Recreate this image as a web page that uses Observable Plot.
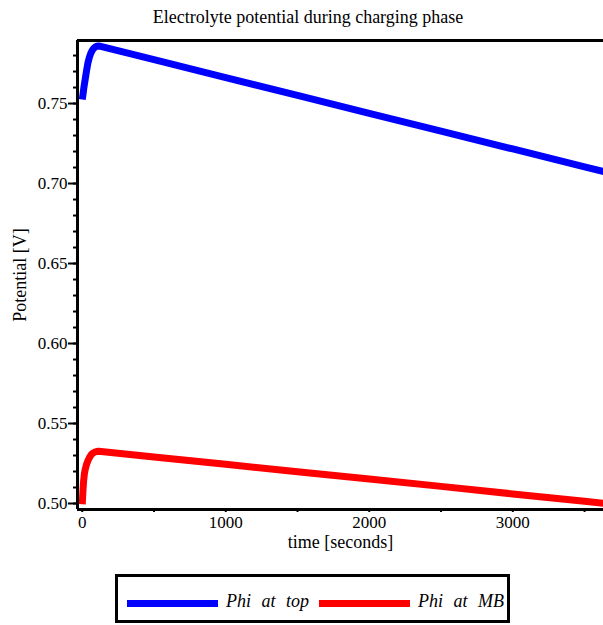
<!DOCTYPE html>
<html>
<head>
<meta charset="utf-8">
<script src="https://cdn.jsdelivr.net/npm/d3@7"></script>
<script src="https://cdn.jsdelivr.net/npm/@observablehq/plot@0.6"></script>
<style>
  html, body { margin: 0; padding: 0; background: #fff; }
  #wrap { position: relative; width: 603px; height: 625px; overflow: hidden; font-family: "Liberation Serif", "Times New Roman", serif; color: #000; }
  #title { position: absolute; left: 13px; top: 0; width: 590px; height: 34px; line-height: 34px; text-align: center; font-size: 18px; }
  #chart { position: absolute; left: 0; top: 34px; }
  #legend { position: absolute; left: 115px; top: 574px; width: 395px; height: 49px; box-sizing: border-box; border: 3px solid #000; }
  .sw { position: absolute; height: 7px; top: 22.5px; width: 91px; }
  .lt { position: absolute; top: 15px; font-style: italic; font-size: 18px; line-height: 18px; white-space: nowrap; word-spacing: 6px; }
</style>
</head>
<body>
<div id="wrap">
  <div id="title">Electrolyte potential during charging phase</div>
  <div id="chart"></div>
  <div id="legend"></div>
</div>
<script>
// ---- data ----
const timeSeconds = [0, 5, 10, 15, 20, 30, 40, 50, 60, 70, 80, 90, 100, 115, 500, 1000, 1500, 2000, 2500, 3000, 3500, 3640];
const phiTop = [0.7525, 0.7555, 0.7590, 0.7620, 0.7648, 0.7705, 0.7755, 0.7790, 0.7815, 0.7833, 0.7845, 0.7853, 0.7858, 0.7860, 0.7774, 0.7662, 0.7551, 0.7439, 0.7327, 0.7216, 0.7104, 0.7073];
const phiMB  = [0.4995, 0.5080, 0.5145, 0.5185, 0.5210, 0.5245, 0.5268, 0.5287, 0.5302, 0.5312, 0.5318, 0.5322, 0.5325, 0.5327, 0.5291, 0.5245, 0.5199, 0.5153, 0.5107, 0.5060, 0.5014, 0.5001];
const seriesNames = ["Phi at top", "Phi at MB"];
const seriesColors = ["#0000ff", "#ff0000"];
const yMajorTicks = [0.50, 0.55, 0.60, 0.65, 0.70, 0.75];
const yMinorTicks = [0.50, 0.51, 0.52, 0.53, 0.54, 0.55, 0.56, 0.57, 0.58, 0.59, 0.60, 0.61, 0.62, 0.63, 0.64, 0.65, 0.66, 0.67, 0.68, 0.69, 0.70, 0.71, 0.72, 0.73, 0.74, 0.75, 0.76, 0.77, 0.78];
const xMajorTicks = [0, 1000, 2000, 3000];
const xMinorTicks = [0, 500, 1000, 1500, 2000, 2500, 3000, 3500];
const xDomain = [-33, 3632];
const yDomain = [0.49625, 0.7894];
const xLabel = "time [seconds]";
const yLabel = "Potential [V]";

const rows = [];
timeSeconds.forEach((t, i) => {
  rows.push({t, v: phiTop[i], s: seriesNames[0]});
});
timeSeconds.forEach((t, i) => {
  rows.push({t, v: phiMB[i], s: seriesNames[1]});
});

const chart = Plot.plot({
  width: 603,
  height: 536,
  marginTop: 6,
  marginBottom: 61,
  marginLeft: 77,
  marginRight: 0,
  style: {fontFamily: "'Liberation Serif', 'Times New Roman', serif", fontSize: "17px", color: "#000", background: "#fff"},
  x: {domain: xDomain},
  y: {domain: yDomain},
  color: {domain: seriesNames, range: seriesColors},
  marks: [
    Plot.line(rows, {x: "t", y: "v", z: "s", stroke: "s", strokeWidth: 7, strokeLinejoin: "round", strokeLinecap: "butt", clip: true}),
    Plot.axisY(yMinorTicks, {tickSize: 4, strokeWidth: 2, tickFormat: () => "", label: null}),
    Plot.axisY(yMajorTicks, {tickSize: 9, tickPadding: 1, strokeWidth: 2, tickFormat: d3.format(".2f"), label: null, fontSize: 17}),
    Plot.axisX(xMinorTicks, {tickSize: 3, strokeWidth: 2, tickFormat: () => "", label: null}),
    Plot.axisX(xMajorTicks, {tickSize: 0, tickPadding: 6, tickFormat: d3.format("d"), label: null, fontSize: 17}),
    Plot.ruleX([xDomain[0]], {strokeWidth: 3}),
    Plot.ruleY([yDomain[0], yDomain[1]], {strokeWidth: 3}),
    Plot.text([xLabel], {frameAnchor: "bottom", dy: 33, lineAnchor: "middle", textAnchor: "middle", fontSize: 18, text: d => d}),
    Plot.text([yLabel], {frameAnchor: "left", dx: -57, rotate: -90, lineAnchor: "middle", textAnchor: "middle", fontSize: 18, text: d => d})
  ]
});
document.getElementById("chart").appendChild(chart);

// legend
const legend = document.getElementById("legend");
const swatchLeft = [9, 201];
const labelLeft = [108, 300];
seriesNames.forEach((name, i) => {
  const sw = document.createElement("div");
  sw.className = "sw";
  sw.style.left = swatchLeft[i] + "px";
  sw.style.background = seriesColors[i];
  legend.appendChild(sw);
  const lt = document.createElement("div");
  lt.className = "lt";
  lt.style.left = labelLeft[i] + "px";
  lt.textContent = name;
  legend.appendChild(lt);
});
</script>
</body>
</html>
